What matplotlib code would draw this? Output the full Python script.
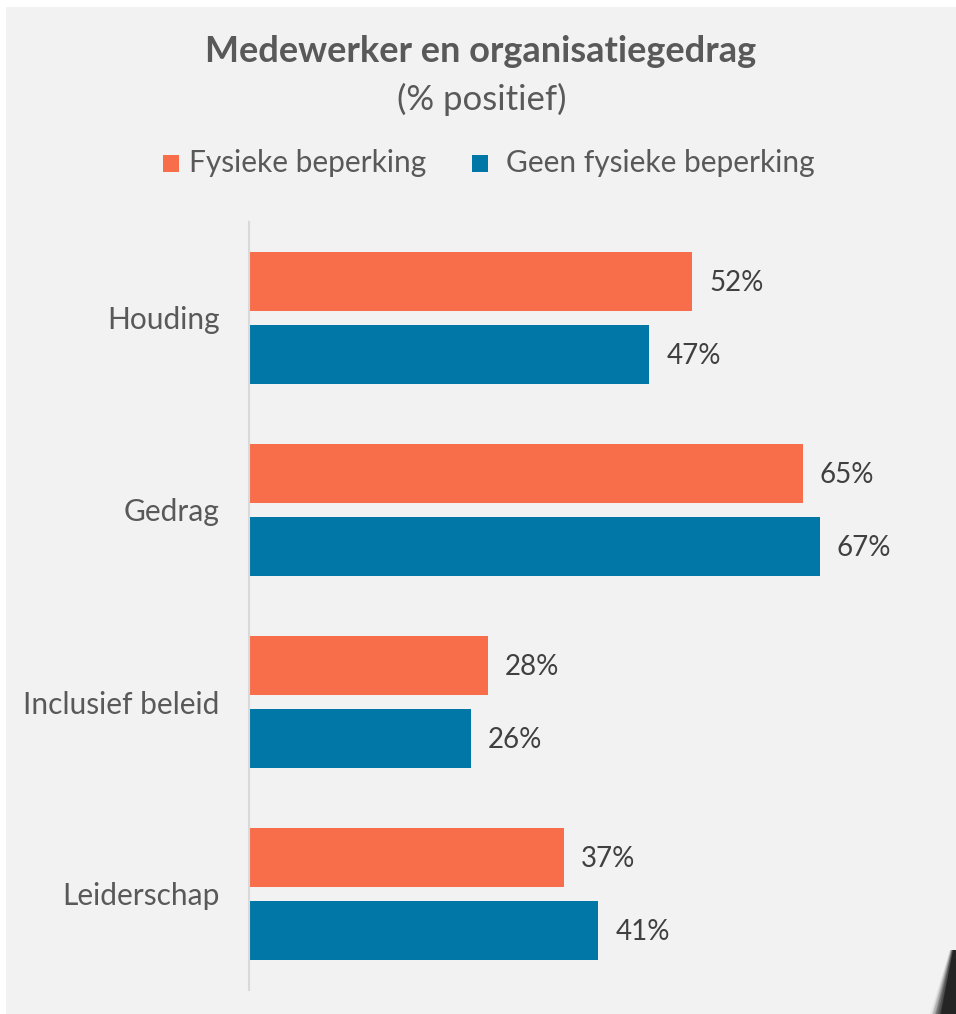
import matplotlib.pyplot as plt
import numpy as np
from matplotlib.patches import Rectangle, Polygon

# data
categories = ['Houding', 'Gedrag', 'Inclusief beleid', 'Leiderschap']
series_names = ['Fysieke beperking', 'Geen fysieke beperking']
fysiek = [52, 65, 28, 37]
geen_fysiek = [47, 67, 26, 41]

orange = '#F96E4A'
blue = '#0077A6'
panel = '#F2F2F2'
text_grey = '#595959'
value_grey = '#404040'

plt.rcParams['font.family'] = ['Lato', 'DejaVu Sans']

W, H = 956, 1014
fig = plt.figure(figsize=(W / 100, H / 100), dpi=100)
fig.patch.set_facecolor('white')

# grey panel behind the chart
fig.patches.append(Rectangle((6 / W, 0), 1 - 6 / W, 1 - 7 / H,
                             transform=fig.transFigure, facecolor=panel,
                             edgecolor='none', zorder=-10))

# curled page corner bottom right
for i, a in enumerate(np.linspace(0.15, 1.0, 8)):
    off = i * 1.6
    pts = [(x / W, y / H) for x, y in [(W - 6 + off * 0.3, H - 950), (W, H - 950), (W, 0), (W - 26 + off, 0)]]
    fig.patches.append(Polygon(pts, closed=True, transform=fig.transFigure,
                               facecolor='black', edgecolor='none', alpha=a * 0.35, zorder=-5))

ax_left, ax_right = 249, 249 + 8.52 * 80
ax_top, ax_bottom = 222, 990
ax = fig.add_axes([ax_left / W, (H - ax_bottom) / H, (ax_right - ax_left) / W, (ax_bottom - ax_top) / H])
ax.set_facecolor('none')
ax.set_zorder(2)

y = np.arange(len(categories))
h = 0.31
ax.barh(y - 0.19, fysiek, height=h, color=orange, label=series_names[0])
ax.barh(y + 0.19, geen_fysiek, height=h, color=blue, label=series_names[1])

for yi, v in zip(y, fysiek):
    ax.text(v + 2.0, yi - 0.18, f'{v}%', va='center', ha='left', fontsize=20, color=value_grey)
for yi, v in zip(y, geen_fysiek):
    ax.text(v + 2.0, yi + 0.2, f'{v}%', va='center', ha='left', fontsize=20, color=value_grey)

ax.set_xlim(0, 80)
ax.set_ylim(len(categories) - 0.5, -0.5)
ax.set_yticks(y)
ax.set_yticklabels(categories, fontsize=21.5, color=text_grey)
ax.tick_params(axis='y', length=0, pad=21)
ax.set_xticks([])
for s in ['top', 'right', 'bottom']:
    ax.spines[s].set_visible(False)
ax.spines['left'].set_color('#D9D9D9')
ax.spines['left'].set_linewidth(1.5)

# title block
fig.text(481 / W, 1 - 51 / H, 'Medewerker en organisatiegedrag', ha='center', va='center',
         fontsize=26, fontweight='bold', color=text_grey)
fig.text(482 / W, 1 - 99 / H, '(% positief)', ha='center', va='center',
         fontsize=25, color=text_grey)

# legend row
leg_y = 163
for x_sq, x_txt, name, col in [(163, 189, series_names[0], orange), (472, 506, series_names[1], blue)]:
    fig.patches.append(Rectangle((x_sq / W, 1 - 172 / H), 16 / W, 17 / H,
                                 transform=fig.transFigure, facecolor=col, edgecolor='none'))
    fig.text(x_txt / W, 1 - leg_y / H, name, ha='left', va='center', fontsize=21.5, color=text_grey)

plt.savefig('out.png', dpi=100, facecolor=fig.get_facecolor())
